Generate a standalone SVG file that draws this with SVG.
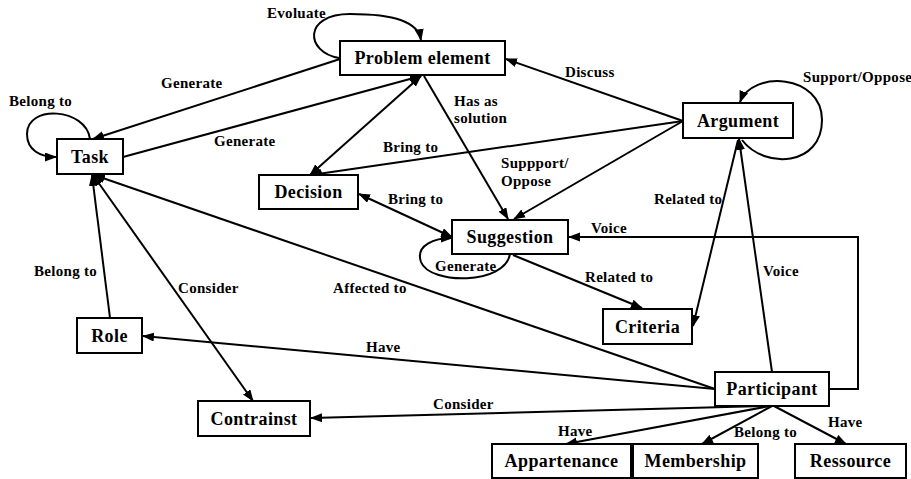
<svg xmlns="http://www.w3.org/2000/svg" width="911" height="479" viewBox="0 0 911 479">
<style>
.box{fill:#fff;stroke:#000;stroke-width:2}
.nt{font-family:"Times New Roman",Times,Tinos,"Liberation Serif","Noto Serif","DejaVu Serif",FreeSerif,serif;font-weight:bold;font-size:18px;letter-spacing:0.4px;text-anchor:middle;fill:#000}
.el{font-family:"Times New Roman",Times,Tinos,"Liberation Serif","Noto Serif","DejaVu Serif",FreeSerif,serif;font-weight:bold;font-size:15px;letter-spacing:0.3px;fill:#000}
.c{fill:none;stroke:#000;stroke-width:2}
</style>
<defs>
<marker id="a" markerUnits="userSpaceOnUse" markerWidth="12" markerHeight="10" refX="11" refY="4.5" orient="auto-start-reverse" viewBox="0 0 12 10">
<path d="M0,0 L12,4.5 L0,9 z" fill="#000"/>
</marker>
</defs>
<rect width="911" height="479" fill="#fff"/>
<g id="connectors">
<path class="c" d="M339,58 C305,52 303,14 350,14 C395,14 418,22 421,40" marker-end="url(#a)"/>
<path class="c" d="M90,139 C86,108 27,104 27,134 C27,150 40,157 56,157" marker-end="url(#a)"/>
<path class="c" d="M340,59 L93,139" marker-end="url(#a)"/>
<path class="c" d="M123,157 L421,76" marker-end="url(#a)"/>
<path class="c" d="M310,175 L421,76" marker-start="url(#a)" marker-end="url(#a)"/>
<path class="c" d="M424,76 L508,219" marker-end="url(#a)"/>
<path class="c" d="M683,121 L506,59" marker-end="url(#a)"/>
<path class="c" d="M683,121 L311,175" marker-end="url(#a)"/>
<path class="c" d="M683,121 L514,219" marker-end="url(#a)"/>
<path class="c" d="M742,140 C765,170 822,166 822,120 C822,74 752,70 740,102" marker-end="url(#a)"/>
<path class="c" d="M359,194 L452,237" marker-start="url(#a)" marker-end="url(#a)"/>
<path class="c" d="M510,254 C505,285 430,285 421,262 C415,245 435,238 452,238" marker-end="url(#a)"/>
<path class="c" d="M513,255 L642,308" marker-end="url(#a)"/>
<path class="c" d="M738,140 L693,326" marker-end="url(#a)"/>
<path class="c" d="M772,372 L739,139" marker-end="url(#a)"/>
<path class="c" d="M829,389 L858,389 L858,237 L569,237" marker-end="url(#a)"/>
<path class="c" d="M715,389 L94,175" marker-end="url(#a)"/>
<path class="c" d="M110,318 L92,175" marker-end="url(#a)"/>
<path class="c" d="M93,175 L253,401" marker-start="url(#a)" marker-end="url(#a)"/>
<path class="c" d="M715,389 L143,336" marker-end="url(#a)"/>
<path class="c" d="M767,406 L311,418" marker-end="url(#a)"/>
<path class="c" d="M770,406 L566,444" marker-end="url(#a)"/>
<path class="c" d="M772,406 L702,444" marker-end="url(#a)"/>
<path class="c" d="M774,406 L846,444" marker-end="url(#a)"/>
</g>
<g id="edge-labels">
<text class="el" x="267" y="18">Evoluate</text>
<text class="el" x="161" y="88">Generate</text>
<text class="el" x="9" y="106">Belong to</text>
<text class="el" x="214" y="146">Generate</text>
<text class="el" x="565" y="77">Discuss</text>
<text class="el" x="454" y="106">Has as</text>
<text class="el" x="454" y="123">solution</text>
<text class="el" x="383" y="152">Bring to</text>
<text class="el" x="501" y="168">Suppport/</text>
<text class="el" x="501" y="186">Oppose</text>
<text class="el" x="803" y="82">Support/Oppose</text>
<text class="el" x="388" y="204">Bring to</text>
<text class="el" x="654" y="204">Related to</text>
<text class="el" x="591" y="233">Voice</text>
<text class="el" x="763" y="276">Voice</text>
<text class="el" x="585" y="282">Related to</text>
<text class="el" x="435" y="271">Generate</text>
<text class="el" x="333" y="293">Affected to</text>
<text class="el" x="34" y="276">Belong to</text>
<text class="el" x="178" y="293">Consider</text>
<text class="el" x="366" y="352">Have</text>
<text class="el" x="433" y="409">Consider</text>
<text class="el" x="558" y="436">Have</text>
<text class="el" x="734" y="437">Belong to</text>
<text class="el" x="828" y="427">Have</text>
</g>
<g id="problem-element"><rect class="box" x="340" y="41" width="165" height="34"/><text class="nt" x="422.5" y="64">Problem element</text></g>
<g id="task"><rect class="box" x="57" y="139" width="66" height="35"/><text class="nt" x="90" y="163">Task</text></g>
<g id="argument"><rect class="box" x="683" y="103" width="110" height="35"/><text class="nt" x="738" y="127">Argument</text></g>
<g id="decision"><rect class="box" x="259" y="175" width="99" height="34"/><text class="nt" x="308.5" y="198">Decision</text></g>
<g id="suggestion"><rect class="box" x="452" y="220" width="116" height="34"/><text class="nt" x="510" y="243">Suggestion</text></g>
<g id="criteria"><rect class="box" x="603" y="309" width="89" height="35"/><text class="nt" x="647.5" y="333">Criteria</text></g>
<g id="role"><rect class="box" x="77" y="318" width="65" height="35"/><text class="nt" x="109.5" y="342">Role</text></g>
<g id="contrainst"><rect class="box" x="198" y="401" width="112" height="35"/><text class="nt" x="254" y="425">Contrainst</text></g>
<g id="participant"><rect class="box" x="715" y="372" width="114" height="34"/><text class="nt" x="772" y="395">Participant</text></g>
<g id="appartenance"><rect class="box" x="492" y="444" width="139" height="34"/><text class="nt" x="561.5" y="467">Appartenance</text></g>
<g id="membership"><rect class="box" x="633" y="444" width="125" height="34"/><text class="nt" x="695.5" y="467">Membership</text></g>
<g id="ressource"><rect class="box" x="795" y="444" width="111" height="34"/><text class="nt" x="850.5" y="467">Ressource</text></g>
</svg>
